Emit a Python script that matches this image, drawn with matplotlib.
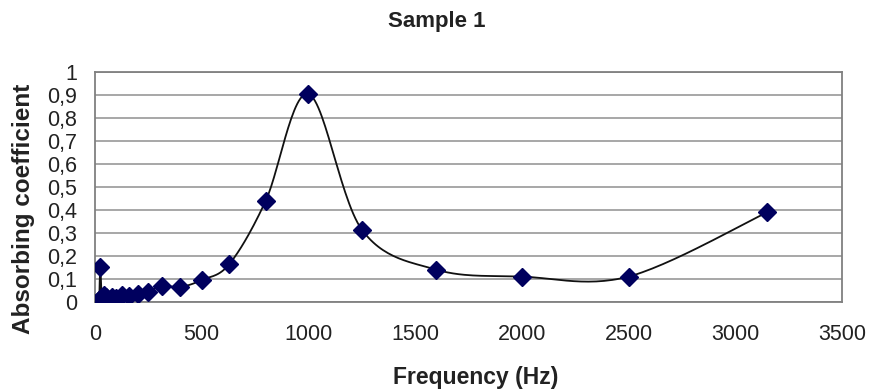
import numpy as np
import matplotlib
matplotlib.use("Agg")
import matplotlib.pyplot as plt

plt.rcParams['font.family'] = ['Liberation Sans', 'DejaVu Sans']

# third-octave band centre frequencies (Hz) and measured absorption
freq = [20, 25, 31.5, 40, 50, 63, 80, 100, 125, 160, 200, 250, 315, 400,
        500, 630, 800, 1000, 1250, 1600, 2000, 2500, 3150]
alpha = [0.01, 0.15, 0.02, 0.03, 0.02, 0.01, 0.02, 0.015, 0.03, 0.025, 0.035,
         0.045, 0.07, 0.065, 0.095, 0.165, 0.44, 0.905, 0.315, 0.14, 0.11,
         0.11, 0.39]
yticks = [0, 0.1, 0.2, 0.3, 0.4, 0.5, 0.6, 0.7, 0.8, 0.9, 1.0]
ytick_labels = ['0', '0,1', '0,2', '0,3', '0,4', '0,5', '0,6', '0,7', '0,8', '0,9', '1']
xticks = [0, 500, 1000, 1500, 2000, 2500, 3000, 3500]


def smooth_line(x, y, n=30):
    """Excel-style smoothed line: cubic Bezier through the points."""
    x = np.asarray(x, float)
    y = np.asarray(y, float)
    px = np.concatenate([[x[0]], x, [x[-1]]])
    py = np.concatenate([[y[0]], y, [y[-1]]])
    xs, ys = [], []
    t = np.linspace(0, 1, n)
    for i in range(1, len(px) - 2):
        p0 = np.array([px[i], py[i]])
        p3 = np.array([px[i + 1], py[i + 1]])
        p1 = p0 + (np.array([px[i + 1], py[i + 1]]) - np.array([px[i - 1], py[i - 1]])) / 6
        p2 = p3 - (np.array([px[i + 2], py[i + 2]]) - np.array([px[i], py[i]])) / 6
        b = ((1 - t) ** 3)[:, None] * p0 + (3 * (1 - t) ** 2 * t)[:, None] * p1 \
            + (3 * (1 - t) * t ** 2)[:, None] * p2 + (t ** 3)[:, None] * p3
        xs.extend(b[:, 0])
        ys.extend(b[:, 1])
    return np.array(xs), np.array(ys)


fig = plt.figure(figsize=(8.73, 3.9), dpi=100, facecolor='white')
ax = fig.add_axes([0.1088, 0.226, 0.8557, 0.589])

sx, sy = smooth_line(freq, alpha)
ax.plot(sx, sy, color='#111111', lw=1.3, zorder=3)
ax.plot(freq, alpha, linestyle='none', marker='D', markersize=9.5,
        color='#00005e', markeredgecolor='#00005e', zorder=4)

ax.set_xlim(0, 3500)
ax.set_ylim(0, 1)
ax.set_xticks(xticks)
ax.set_yticks(yticks)
ax.set_yticklabels(ytick_labels)
ax.tick_params(axis='both', labelsize=15.5, length=0, colors='#222222')
ax.tick_params(axis='x', pad=16)
ax.tick_params(axis='y', pad=13)
ax.yaxis.grid(True, color='#a0a0a0', lw=1.3)
ax.set_axisbelow(True)
for s in ax.spines.values():
    s.set_color('#808080')
    s.set_linewidth(1.3)

fig.text(0.545, 0.031, 'Frequency (Hz)', ha='center', va='center',
         fontsize=16.5, fontweight='bold', color='#222222')
fig.text(0.027, 0.464, 'Absorbing coefficient', ha='center', va='center',
         rotation=90, fontsize=17.5, fontweight='bold', color='#222222')
fig.text(0.50, 0.944, 'Sample 1', ha='center', va='center',
         fontsize=16, fontweight='bold', color='#222222')

fig.savefig('out.png', dpi=100, facecolor='white')
